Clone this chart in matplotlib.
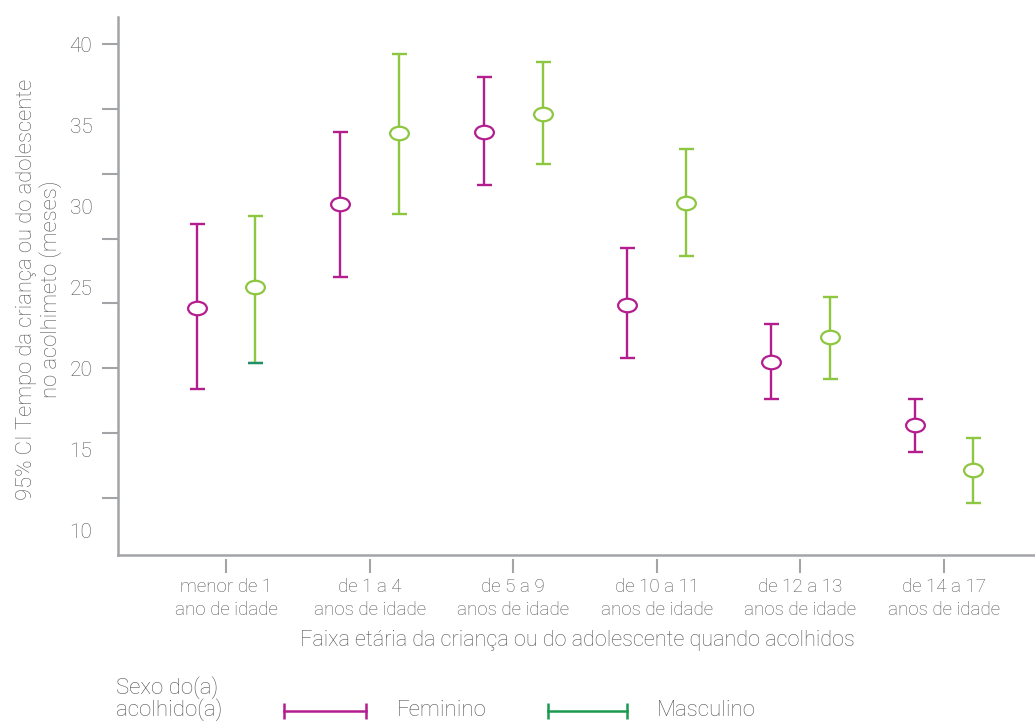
import numpy as np
import matplotlib
matplotlib.use("Agg")
import matplotlib.pyplot as plt
from matplotlib.path import Path
from matplotlib.transforms import Affine2D
from matplotlib.lines import Line2D

plt.rcParams['font.family'] = ['Roboto', 'DejaVu Sans']
plt.rcParams['font.weight'] = 'light'

# faixas etarias e IC 95% (meses)
grupos = ['menor de 1\nano de idade', 'de 1 a 4\nanos de idade', 'de 5 a 9\nanos de idade',
          'de 10 a 11\nanos de idade', 'de 12 a 13\nanos de idade', 'de 14 a 17\nanos de idade']

fem_media = [23.7, 30.1, 34.6, 23.9, 20.4, 16.5]
fem_inf = [18.7, 25.6, 31.3, 20.6, 18.1, 14.8]
fem_sup = [28.9, 34.6, 38.0, 27.4, 22.7, 18.1]

masc_media = [25.0, 34.5, 35.7, 30.2, 21.9, 13.7]
masc_inf = [20.3, 29.5, 32.6, 26.9, 19.3, 11.7]
masc_sup = [29.4, 39.4, 38.9, 33.5, 24.4, 15.7]

cor_fem = '#b41d8e'
cor_masc = '#8dc63f'
cor_masc_leg = '#1a9a50'
cinza = '#a2a4a7'
texto = '#555659'

# marcador em forma de elipse
elipse = Path.unit_circle().transformed(Affine2D().scale(1.0, 0.72))

fig = plt.figure(figsize=(10.35, 7.24), dpi=100)
ax = fig.add_axes([0.1140, 0.2334, 0.886, 0.743])

x = np.arange(len(grupos))
desloc = 0.205

def serie(xs, media, inf, sup, cor):
    media = np.array(media)
    err = [media - np.array(inf), np.array(sup) - media]
    ax.errorbar(xs, media, yerr=err, fmt='none', ecolor=cor, elinewidth=1.7,
                capsize=5.4, capthick=1.7, zorder=2)
    ax.plot(xs, media, linestyle='none', marker=elipse, markersize=13.5,
            markerfacecolor='white', markeredgecolor=cor, markeredgewidth=1.6, zorder=3)

serie(x - desloc, fem_media, fem_inf, fem_sup, cor_fem)
serie(x + desloc, masc_media, masc_inf, masc_sup, cor_masc)
ax.plot([x[0] + desloc], [masc_inf[0]], linestyle='none', marker='_', markersize=10.8,
        markeredgewidth=1.7, color='#1f8f70', zorder=4)

ax.set_xlim(-0.752, 5.634)
ax.set_ylim(8.46, 41.67)

for s in ['top', 'right']:
    ax.spines[s].set_visible(False)
for s in ['left', 'bottom']:
    ax.spines[s].set_color(cinza)
    ax.spines[s].set_linewidth(1.8)

# marcas do eixo y a cada 4, rotulos a cada 5
ax.yaxis.remove_overlapping_locs = False
ax.set_yticks(np.arange(12, 41, 4))
ax.set_yticklabels([])
ax.tick_params(axis='y', which='major', length=11.5, width=1.5, color=cinza)
ax.set_yticks(np.arange(10, 41, 5), minor=True)
ax.set_yticklabels([str(v) for v in range(10, 41, 5)], minor=True)
ax.tick_params(axis='y', which='minor', length=0, pad=18.5, labelsize=15, labelcolor=texto)

ax.set_xticks(x)
ax.set_xticklabels(grupos, linespacing=1.35)
ax.tick_params(axis='x', length=0, pad=16.5, labelsize=13.5, labelcolor=texto)
trans = ax.get_xaxis_transform()
for xi in x:
    ax.plot([xi, xi], [-0.0095, -0.0315], color=cinza, linewidth=1.5,
            transform=trans, clip_on=False)

fig.text(0.0375, 0.60, '95% CI Tempo da criança ou do adolescente\nno acolhimeto (meses)',
         rotation=90, ha='center', va='center', fontsize=15.8, color=texto,
         linespacing=1.1)
fig.text(0.5575, 0.115, 'Faixa etária da criança ou do adolescente quando acolhidos',
         ha='center', va='center', fontsize=15.6, color=texto)

# legenda
fig.text(116 / 1035, 1 - 699 / 724, 'Sexo do(a)\nacolhido(a)', ha='left', va='center',
         fontsize=16, color=texto, linespacing=0.95)
ly = 1 - 711 / 724
for x0, x1, cor, nome, xt in [(284, 366, cor_fem, 'Feminino', 397),
                              (548, 627, cor_masc_leg, 'Masculino', 657)]:
    fig.add_artist(Line2D([x0 / 1035, x1 / 1035], [ly, ly], color=cor, linewidth=1.8,
                          marker='|', markersize=11, markeredgewidth=1.8))
    fig.text(xt / 1035, ly, nome, ha='left', va='center', fontsize=16, color=texto)

fig.savefig('out.png', dpi=100)
